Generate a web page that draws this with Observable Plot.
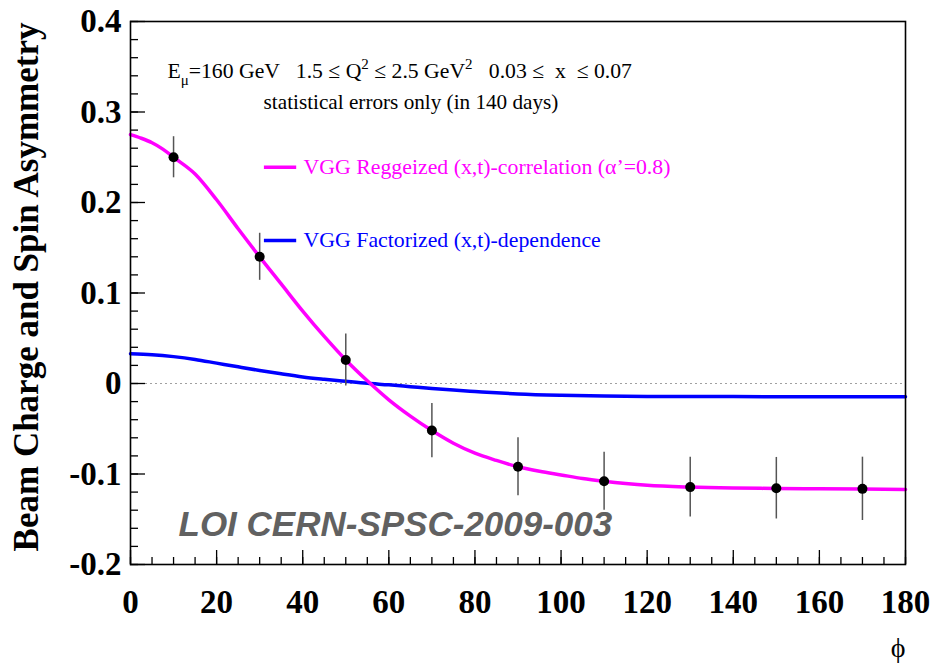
<!DOCTYPE html>
<html>
<head>
<meta charset="utf-8">
<script src="https://cdn.jsdelivr.net/npm/d3@7"></script>
<script src="https://cdn.jsdelivr.net/npm/@observablehq/plot@0.6"></script>
<style>
  body { margin: 0; background: #fff; }
  svg { display: block; }
  svg text { white-space: pre; }
</style>
</head>
<body>
<div id="chart"></div>
<script>
// Projected beam charge and spin asymmetry vs. phi (COMPASS DVCS, statistical errors only)
const pointPhi  = [10, 30, 50, 70, 90, 110, 130, 150, 170];
const pointAsym = [0.250, 0.140, 0.026, -0.052, -0.092, -0.108, -0.1145, -0.1157, -0.1164];
const pointErr  = [0.0227, 0.026, 0.0287, 0.030, 0.032, 0.032, 0.033, 0.034, 0.035];

// VGG model, Reggeized (x,t)-correlation
const reggeizedPhi  = [0, 2.5, 5, 7.5, 10, 15, 20, 25, 30, 35, 40, 45, 50, 55, 60, 65, 70, 75, 80, 85, 90, 95, 100, 105, 110, 115, 120, 130, 140, 150, 160, 170, 180];
const reggeizedAsym = [0.275, 0.271, 0.266, 0.259, 0.250, 0.2315, 0.203, 0.171, 0.140, 0.110, 0.080, 0.052, 0.026, 0.003, -0.018, -0.036, -0.052, -0.066, -0.077, -0.085, -0.092, -0.097, -0.101, -0.105, -0.108, -0.1105, -0.1125, -0.1145, -0.1155, -0.116, -0.1163, -0.1166, -0.117];

// VGG model, factorized (x,t)-dependence
const factorizedPhi  = [0, 5, 10, 15, 20, 25, 30, 35, 40, 45, 50, 55, 60, 65, 70, 75, 80, 85, 90, 100, 110, 120, 140, 160, 180];
const factorizedAsym = [0.0328, 0.0318, 0.0297, 0.0266, 0.0225, 0.0184, 0.0144, 0.0107, 0.0073, 0.0047, 0.0024, 0.0002, -0.0015, -0.0035, -0.0055, -0.0073, -0.0088, -0.0103, -0.0116, -0.0131, -0.0139, -0.0143, -0.0145, -0.0146, -0.0146];

const xTickValues = [0, 20, 40, 60, 80, 100, 120, 140, 160, 180];
const xTickLabels = ["0", "20", "40", "60", "80", "100", "120", "140", "160", "180"];
const yTickValues = [-0.2, -0.1, 0, 0.1, 0.2, 0.3, 0.4];
const yTickLabels = ["-0.2", "-0.1", "0", "0.1", "0.2", "0.3", "0.4"];

const seriesNames  = ["VGG Reggeized (x,t)-correlation (α’=0.8)", "VGG Factorized (x,t)-dependence"];
const seriesColors = ["#ff00ff", "#0000ff"];

const yTitle = "Beam Charge and Spin Asymmetry";
const xTitle = "ϕ";
const reference = "LOI CERN-SPSC-2009-003";
const subtitle = "statistical errors only (in 140 days)";
// kinematic cuts, split where sub-/superscripts go
const kinematicSegments = [["E", ""], ["μ", "sub"], ["=160 GeV   1.5 ≤ Q", ""], ["2", "sup"], [" ≤ 2.5 GeV", ""], ["2", "sup"], ["   0.03 ≤  x  ≤ 0.07", ""]];
const kinematicText = kinematicSegments.map(s => s[0]).join("");

const points = pointPhi.map((phi, i) => ({phi, a: pointAsym[i], e: pointErr[i]}));
const reggeized = reggeizedPhi.map((phi, i) => ({phi, a: reggeizedAsym[i]}));
const factorized = factorizedPhi.map((phi, i) => ({phi, a: factorizedAsym[i]}));

const xMinor = d3.range(0, 181, 5);
const yMinor = d3.range(-10, 21).map(k => k * 0.02);

const serif = "Liberation Serif";

const chart = Plot.plot({
  width: 934,
  height: 665,
  marginLeft: 130,
  marginRight: 29,
  marginTop: 21,
  marginBottom: 101,
  style: {fontFamily: serif, background: "#fff", color: "#000"},
  x: {domain: [0, 180], axis: null},
  y: {domain: [-0.2, 0.4], axis: null},
  marks: [
    // zero reference line
    Plot.ruleY([0], {stroke: "#a0a0a0", strokeWidth: 1, strokeDasharray: "2,3"}),

    // inward tick marks
    Plot.tickX(xMinor, {x: d => d, insetTop: 536, stroke: "#000", strokeWidth: 1.3}),
    Plot.tickX(xTickValues, {x: d => d, insetTop: 529, stroke: "#000", strokeWidth: 1.3}),
    Plot.tickY(yMinor, {y: d => d, insetRight: 767, stroke: "#000", strokeWidth: 1.3}),
    Plot.tickY(yTickValues, {y: d => d, insetRight: 760, stroke: "#000", strokeWidth: 1.3}),

    Plot.axisX({ticks: xTickValues, tickSize: 0, tickPadding: 25, label: null,
      tickFormat: d => xTickLabels[xTickValues.indexOf(d)],
      fontSize: 33, fontWeight: "bold", fontFamily: serif}),
    Plot.axisY({ticks: yTickValues, tickSize: 0, tickPadding: 9, label: null,
      tickFormat: d => yTickLabels[yTickValues.indexOf(d)],
      fontSize: 33, fontWeight: "bold", fontFamily: serif}),

    // model curves
    Plot.line(factorized, {x: "phi", y: "a", stroke: seriesColors[1], strokeWidth: 3.5, curve: "monotone-x"}),
    Plot.line(reggeized, {x: "phi", y: "a", stroke: seriesColors[0], strokeWidth: 3.5, curve: "monotone-x"}),

    // projected measurements
    Plot.ruleX(points, {x: "phi", y1: d => d.a - d.e, y2: d => d.a + d.e, stroke: "#555", strokeWidth: 1.5}),
    Plot.dot(points, {x: "phi", y: "a", r: 5, fill: "#000", stroke: null}),

    // legend
    Plot.ruleY([seriesNames[0]], {y: 0.239, x1: 31.1, x2: 38.6, stroke: seriesColors[0], strokeWidth: 3.5}),
    Plot.ruleY([seriesNames[1]], {y: 0.158, x1: 31.1, x2: 38.6, stroke: seriesColors[1], strokeWidth: 3.5}),
    Plot.text([seriesNames[0]], {x: 40.2, y: 0.239, text: d => d, textAnchor: "start", lineAnchor: "middle", fill: seriesColors[0], fontSize: 21.8}),
    Plot.text([seriesNames[1]], {x: 40.2, y: 0.158, text: d => d, textAnchor: "start", lineAnchor: "middle", fill: seriesColors[1], fontSize: 21.8}),

    // kinematics header
    Plot.text([kinematicText], {frameAnchor: "top-left", dx: 37, dy: 56, text: d => d, textAnchor: "start", lineAnchor: "bottom", fontSize: 21.7, fill: "#000"}),
    Plot.text([subtitle], {frameAnchor: "top-left", dx: 280.5, dy: 87, text: d => d, textAnchor: "middle", lineAnchor: "bottom", fontSize: 21.2, fill: "#000"}),

    // document reference
    Plot.text([reference], {frameAnchor: "bottom-left", dx: 48, dy: -29, text: d => d, textAnchor: "start", lineAnchor: "bottom",
      fontFamily: "Liberation Sans", fontWeight: "bold", fontStyle: "italic", fontSize: 35, fill: "#616161"}),

    // axis titles
    Plot.text([yTitle], {frameAnchor: "top-left", dx: -93, dy: 1, rotate: -90, text: d => d, textAnchor: "end", lineAnchor: "bottom",
      fontSize: 35, fontWeight: "bold", fill: "#000"}),
    Plot.text([xTitle], {frameAnchor: "bottom-right", dx: 0, dy: 92, text: d => d, textAnchor: "end", lineAnchor: "bottom",
      fontSize: 28, fill: "#000"}),

    Plot.frame({stroke: "#000", strokeWidth: 1.6})
  ]
});

// Rebuild the kinematics line with subscript / superscript spans
d3.select(chart).selectAll("text")
  .filter(function() { return this.textContent === kinematicText; })
  .each(function() {
    const t = d3.select(this);
    t.text(null);
    let shift = 0;
    for (const [s, kind] of kinematicSegments) {
      const target = kind === "sub" ? 7 : kind === "sup" ? -9 : 0;
      const span = t.append("tspan").attr("dy", target - shift).text(s);
      if (kind) span.attr("font-size", 15);
      shift = target;
    }
  });

document.getElementById("chart").appendChild(chart);
</script>
</body>
</html>
